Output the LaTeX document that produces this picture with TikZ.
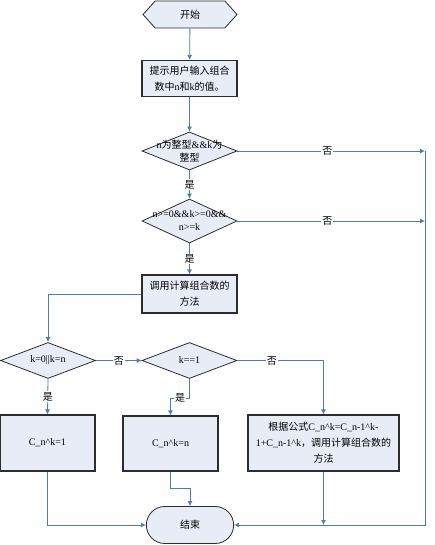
\documentclass[tikz,border=0pt]{standalone}
\usepackage{fontspec}
\setmainfont{Liberation Serif}
\newfontfamily\cjk{Noto Sans CJK SC}
\newcommand{\zh}[1]{{\cjk #1}}
\usetikzlibrary{shapes.geometric,shapes.symbols,shapes.misc,arrows.meta}
\definecolor{boxfill}{RGB}{231,236,246}
\definecolor{flowblue}{RGB}{74,126,187}
\definecolor{boxline}{RGB}{45,45,45}

\begin{document}
\begin{tikzpicture}[x=1pt,y=-1pt,
  font=\fontsize{10}{16}\selectfont,
  box/.style={rectangle,draw=boxline,line width=1.1pt,fill=boxfill,align=center,inner sep=2pt},
  dia/.style={diamond,draw=boxline,line width=0.8pt,fill=boxfill,inner sep=0pt,minimum width=95pt},
  flow/.style={draw=flowblue,line width=0.8pt,-{Latex[length=5pt,width=5pt]}},
  lab/.style={fill=white,inner sep=1pt}]

\useasboundingbox (0,0) rectangle (434,545);

% Nodes
\node[signal,signal to=west and east,signal pointer angle=96,draw=boxline,line width=0.8pt,fill=boxfill,
  minimum width=94pt,minimum height=27pt,inner sep=0pt] (start) at (190,14.5) {\zh{开始}};
\node[box,minimum width=95pt,minimum height=36pt] (input) at (189.5,78.5)
  {\zh{提示用户输入组合}\\\zh{数中}n\zh{和}k\zh{的值。}};
\node[dia,minimum height=38pt] (isint) at (189.5,151) {};
\node[align=center] (isinttxt) at (189.5,151) {n\zh{为整型}\&\&k\zh{为}\\[-3pt]\zh{整型}};
\node[dia,minimum height=44pt] (range) at (189.5,221) {};
\node[align=center] (rangetxt) at (189.5,221) {n>=0\&\&k>=0\&\&\\[-3pt]n>=k};
\node[box,minimum width=95pt,minimum height=38pt] (call) at (189.5,294) {\zh{调用计算组合数的}\\\zh{方法}};
\node[dia,minimum height=36pt] (edge) at (48,360.5) {};
\node (edgetxt) at (48,360.5) {k=0||k=n};
\node[dia,minimum height=36pt] (one) at (189.5,360.5) {};
\node (onetxt) at (189.5,360.5) {k==1};
\node[box,minimum width=95pt,minimum height=56pt] (res1) at (47.5,443) {C\_n\textasciicircum k=1};
\node[box,minimum width=95pt,minimum height=55pt] (resn) at (170.5,443.5) {C\_n\textasciicircum k=n};
\node[box,minimum width=151pt,minimum height=56pt,text width=147pt] (rec) at (323.5,443)
  {\centering \zh{根据公式}C\_n\textasciicircum k=C\_n-1\textasciicircum k-\\1+C\_n-1\textasciicircum k\zh{，调用计算组合数的}\\\zh{方法}\par};
\node[rounded rectangle,draw=boxline,line width=0.8pt,fill=boxfill,minimum width=94pt,minimum height=37pt] (stop) at (190,525) {\zh{结束}};

% Right column
\coordinate (r1) at (425,151);
\coordinate (r2) at (425,221);

% Connectors
\draw[flow] (start) -- (input);
\draw[flow] (input) -- (isint);
\draw[flow] (isint) -- node[lab] {\zh{是}} (range);
\draw[flow] (isint.east) -- node[lab,pos=0.48] {\zh{否}} (r1);
\draw[flow] (range.east) -- node[lab,pos=0.48] {\zh{否}} (r2);
\draw[flow] (range) -- node[lab] {\zh{是}} (call);
\draw[flow] (call.west) -| (edge.north);
\draw[flow] (edge.east) -- node[lab] {\zh{否}} (one.west);
\draw[flow] (edge.south) -- node[lab] {\zh{是}} (res1.north);
\draw[flow] (one.east) -| node[lab,pos=0.2] {\zh{否}} (rec.north);
\draw[flow] (one.south) |- (180,398) node[lab] {\zh{是}} -| (resn.north);
\draw[flow] (res1.south) |- (stop.west);
\draw[flow] (resn.south) |- (190,488) -- (stop.north);
\draw[flow] (rec.south) -- (rec.south |- stop.east);
\draw[flow] (r1) |- (stop.east);
\end{tikzpicture}
\end{document}
